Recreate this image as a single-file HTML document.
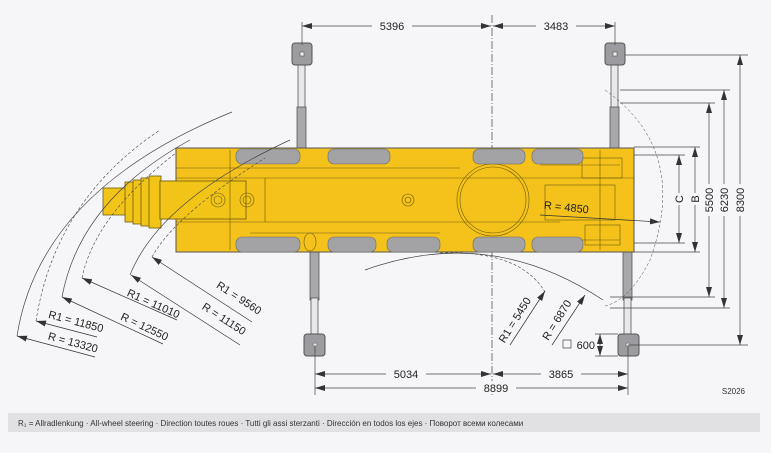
<!DOCTYPE html>
<html><head><meta charset="utf-8"><style>
html,body{margin:0;padding:0;background:#f6f6f8;}
svg{display:block;font-family:"Liberation Sans",sans-serif;}
</style></head><body>
<svg width="771" height="453" viewBox="0 0 771 453" xmlns="http://www.w3.org/2000/svg">
<defs>
<marker id="a" viewBox="0 0 10 6" refX="10" refY="3" markerWidth="10" markerHeight="6" orient="auto-start-reverse" markerUnits="userSpaceOnUse"><path d="M0,0L10,3L0,6z" fill="#333"/></marker>
</defs>
<rect width="771" height="453" fill="#f6f6f8"/>
<line x1="492" y1="15" x2="492" y2="395" stroke="#555" stroke-width="0.8" stroke-dasharray="8,2,1,2"/>
<g stroke="#555" stroke-width="0.8">
<rect x="298" y="55" width="7" height="55" fill="#e8e8ea"/>
<rect x="297" y="107" width="9" height="44" fill="#a8a8ab"/>
<rect x="611" y="55" width="7" height="55" fill="#e8e8ea"/>
<rect x="610" y="107" width="9" height="44" fill="#a8a8ab"/>
<rect x="310" y="252" width="9" height="48" fill="#a8a8ab"/>
<rect x="311" y="298" width="7" height="45" fill="#e8e8ea"/>
<rect x="623" y="252" width="9" height="48" fill="#a8a8ab"/>
<rect x="624" y="298" width="7" height="45" fill="#e8e8ea"/>
</g>
<g fill="#9c9ca0" stroke="#555" stroke-width="1">
<rect x="292" y="43" width="20" height="22" rx="3"/>
<rect x="605" y="43" width="20" height="22" rx="3"/>
<rect x="304" y="334" width="21" height="22" rx="3"/>
<rect x="618" y="334" width="21" height="22" rx="3"/>
</g>
<g fill="#eee" stroke="#555" stroke-width="0.6">
<rect x="300" y="52" width="4" height="4"/><rect x="613" y="52" width="4" height="4"/>
<circle cx="315" cy="345" r="2"/><circle cx="628" cy="345" r="2"/>
</g>
<g stroke="#6b5a10" stroke-width="0.8" fill="#f2c418">
<rect x="103" y="188" width="24" height="27"/>
<rect x="125" y="182" width="10" height="40"/>
<rect x="133" y="180" width="10" height="44"/>
<rect x="141" y="178" width="10" height="48"/>
<rect x="149" y="176" width="12" height="52"/>
<rect x="160" y="181" width="85" height="38"/>
</g>
<rect x="176" y="148" width="458" height="104" fill="#f4c21a" stroke="#555" stroke-width="1"/>
<rect x="160" y="181" width="86" height="38" fill="#f2c418" stroke="#6b5a10" stroke-width="0.8"/>
<g fill="none" stroke="#6b5a10" stroke-width="0.6">
<line x1="176" y1="178" x2="634" y2="178"/>
<line x1="176" y1="222" x2="560" y2="222"/>
<line x1="176" y1="168" x2="460" y2="168"/>
<line x1="250" y1="233" x2="440" y2="233"/>
<line x1="230" y1="150" x2="230" y2="250"/>
<line x1="265" y1="178" x2="265" y2="222"/>
<circle cx="218" cy="200" r="7"/><circle cx="218" cy="200" r="4"/>
<circle cx="247" cy="200" r="7"/><circle cx="247" cy="200" r="4"/>
<circle cx="408" cy="200" r="6"/><circle cx="408" cy="200" r="3"/>
<circle cx="493" cy="200" r="36"/><circle cx="493" cy="200" r="33"/>
<line x1="540" y1="165" x2="620" y2="165"/>
<line x1="540" y1="240" x2="620" y2="240"/>
<rect x="545" y="185" width="70" height="35"/>
<line x1="600" y1="150" x2="600" y2="250"/>
<rect x="582" y="158" width="40" height="20"/>
<rect x="585" y="225" width="35" height="20"/>
<ellipse cx="310" cy="242" rx="6" ry="9"/>
</g>
<g fill="#a3a3a6" stroke="#6a6a6a" stroke-width="0.6">
<rect x="236" y="149" width="64" height="15" rx="6"/>
<rect x="328" y="149" width="62" height="15" rx="6"/>
<rect x="473" y="149" width="52" height="15" rx="6"/>
<rect x="532" y="149" width="51" height="15" rx="6"/>
<rect x="236" y="237" width="64" height="15" rx="6"/>
<rect x="328" y="237" width="48" height="15" rx="6"/>
<rect x="387" y="237" width="53" height="15" rx="6"/>
<rect x="473" y="237" width="52" height="15" rx="6"/>
<rect x="532" y="237" width="51" height="15" rx="6"/>
</g>
<g fill="none" stroke="#444" stroke-width="0.7">
<path d="M17,336 Q40,190 232,112"/>
<path d="M62,297 Q80,200 190,140"/>
<path d="M130,275 Q160,200 290,140"/>
<path d="M365,270 Q490,225 603,300"/>
</g>
<g fill="none" stroke="#444" stroke-width="0.6" stroke-dasharray="3,2">
<path d="M36,321 Q55,200 160,130"/>
<path d="M82,278 Q95,215 176,153"/>
<path d="M152,257 Q175,215 265,158"/>
<path d="M440,253 Q520,250 545,292"/>
<path d="M605,90 Q690,150 650,260 Q630,300 605,306" stroke-width="0.5"/>
</g>
<g stroke="#333" stroke-width="0.7" marker-start="url(#a)">
<line x1="152" y1="257" x2="252" y2="322"/>
<line x1="131" y1="275" x2="240" y2="345"/>
<line x1="82" y1="278" x2="177" y2="320"/>
<line x1="62" y1="297" x2="163" y2="344"/>
<line x1="36" y1="321" x2="97" y2="337"/>
<line x1="17" y1="336" x2="95" y2="357"/>
<line x1="545" y1="291" x2="510" y2="345"/>
<line x1="585" y1="295" x2="552" y2="345"/>
</g>
<line x1="540" y1="215" x2="660" y2="222" stroke="#333" stroke-width="0.7" marker-end="url(#a)"/>
<g font-size="11" fill="#222">
<text transform="translate(237,301) rotate(33)" text-anchor="middle">R1 = 9560</text>
<text transform="translate(222,322) rotate(33)" text-anchor="middle">R = 11150</text>
<text transform="translate(152,307) rotate(24)" text-anchor="middle">R1 = 11010</text>
<text transform="translate(143,330) rotate(25)" text-anchor="middle">R = 12550</text>
<text transform="translate(75,325) rotate(15)" text-anchor="middle">R1 = 11850</text>
<text transform="translate(72,346) rotate(15)" text-anchor="middle">R = 13320</text>
<text transform="translate(566,211) rotate(6)" text-anchor="middle">R = 4850</text>
<text transform="translate(518,322) rotate(-58)" text-anchor="middle">R1 = 5450</text>
<text transform="translate(560,322) rotate(-58)" text-anchor="middle">R = 6870</text>
</g>
<g stroke="#444" stroke-width="0.7">
<line x1="302" y1="22" x2="302" y2="45"/><line x1="615" y1="22" x2="615" y2="45"/>
<line x1="302" y1="26" x2="491" y2="26" marker-start="url(#a)" marker-end="url(#a)"/>
<line x1="493" y1="26" x2="615" y2="26" marker-start="url(#a)" marker-end="url(#a)"/>
<line x1="315" y1="345" x2="315" y2="395"/><line x1="628" y1="345" x2="628" y2="395"/>
<line x1="315" y1="374" x2="491" y2="374" marker-start="url(#a)" marker-end="url(#a)"/>
<line x1="493" y1="374" x2="628" y2="374" marker-start="url(#a)" marker-end="url(#a)"/>
<line x1="315" y1="388" x2="628" y2="388" marker-start="url(#a)" marker-end="url(#a)"/>
<line x1="625" y1="55" x2="748" y2="55"/><line x1="628" y1="345" x2="748" y2="345"/>
<line x1="620" y1="90" x2="730" y2="90"/><line x1="610" y1="308" x2="730" y2="308"/>
<line x1="620" y1="103" x2="715" y2="103"/><line x1="610" y1="297" x2="715" y2="297"/>
<line x1="634" y1="147" x2="700" y2="147"/><line x1="634" y1="252" x2="700" y2="252"/>
<line x1="634" y1="155" x2="685" y2="155"/><line x1="634" y1="243" x2="685" y2="243"/>
<line x1="740" y1="55" x2="740" y2="345" marker-start="url(#a)" marker-end="url(#a)"/>
<line x1="724" y1="90" x2="724" y2="308" marker-start="url(#a)" marker-end="url(#a)"/>
<line x1="709" y1="103" x2="709" y2="297" marker-start="url(#a)" marker-end="url(#a)"/>
<line x1="695" y1="147" x2="695" y2="252" marker-start="url(#a)" marker-end="url(#a)"/>
<line x1="679" y1="155" x2="679" y2="243" marker-start="url(#a)" marker-end="url(#a)"/>
<line x1="595" y1="334" x2="618" y2="334"/><line x1="595" y1="356" x2="618" y2="356"/>
<line x1="600" y1="334" x2="600" y2="356" marker-start="url(#a)" marker-end="url(#a)"/>
</g>
<g font-size="11" fill="#222" text-anchor="middle">
<rect x="372" y="19" width="40" height="13" fill="#f6f6f8"/><text x="392" y="30">5396</text>
<rect x="536" y="19" width="40" height="13" fill="#f6f6f8"/><text x="556" y="30">3483</text>
<rect x="386" y="367" width="40" height="13" fill="#f6f6f8"/><text x="406" y="378">5034</text>
<rect x="541" y="367" width="40" height="13" fill="#f6f6f8"/><text x="561" y="378">3865</text>
<rect x="476" y="381" width="40" height="13" fill="#f6f6f8"/><text x="496" y="392">8899</text>
<g transform="translate(744,200) rotate(-90)"><rect x="-16" y="-11" width="32" height="13" fill="#f6f6f8"/><text x="0" y="0">8300</text></g>
<g transform="translate(728,200) rotate(-90)"><rect x="-16" y="-11" width="32" height="13" fill="#f6f6f8"/><text x="0" y="0">6230</text></g>
<g transform="translate(713,200) rotate(-90)"><rect x="-16" y="-11" width="32" height="13" fill="#f6f6f8"/><text x="0" y="0">5500</text></g>
<g transform="translate(699,199) rotate(-90)"><rect x="-6" y="-11" width="12" height="13" fill="#f6f6f8"/><text x="0" y="0">B</text></g>
<g transform="translate(683,199) rotate(-90)"><rect x="-6" y="-11" width="12" height="13" fill="#f6f6f8"/><text x="0" y="0">C</text></g>
<text x="595" y="349" text-anchor="end">600</text>
</g>
<rect x="563" y="340" width="8" height="8" fill="none" stroke="#444" stroke-width="0.7"/>
<text x="745" y="394" font-size="8" fill="#333" text-anchor="end">S2026</text>
<rect x="8" y="413" width="752" height="19" fill="#e1e1e3"/>
<text x="18" y="426" font-size="8" fill="#333">R₁ =  Allradlenkung · All-wheel steering · Direction toutes roues · Tutti gli assi sterzanti · Dirección en todos los ejes · Поворот всеми колесами</text>
</svg>
</body></html>
